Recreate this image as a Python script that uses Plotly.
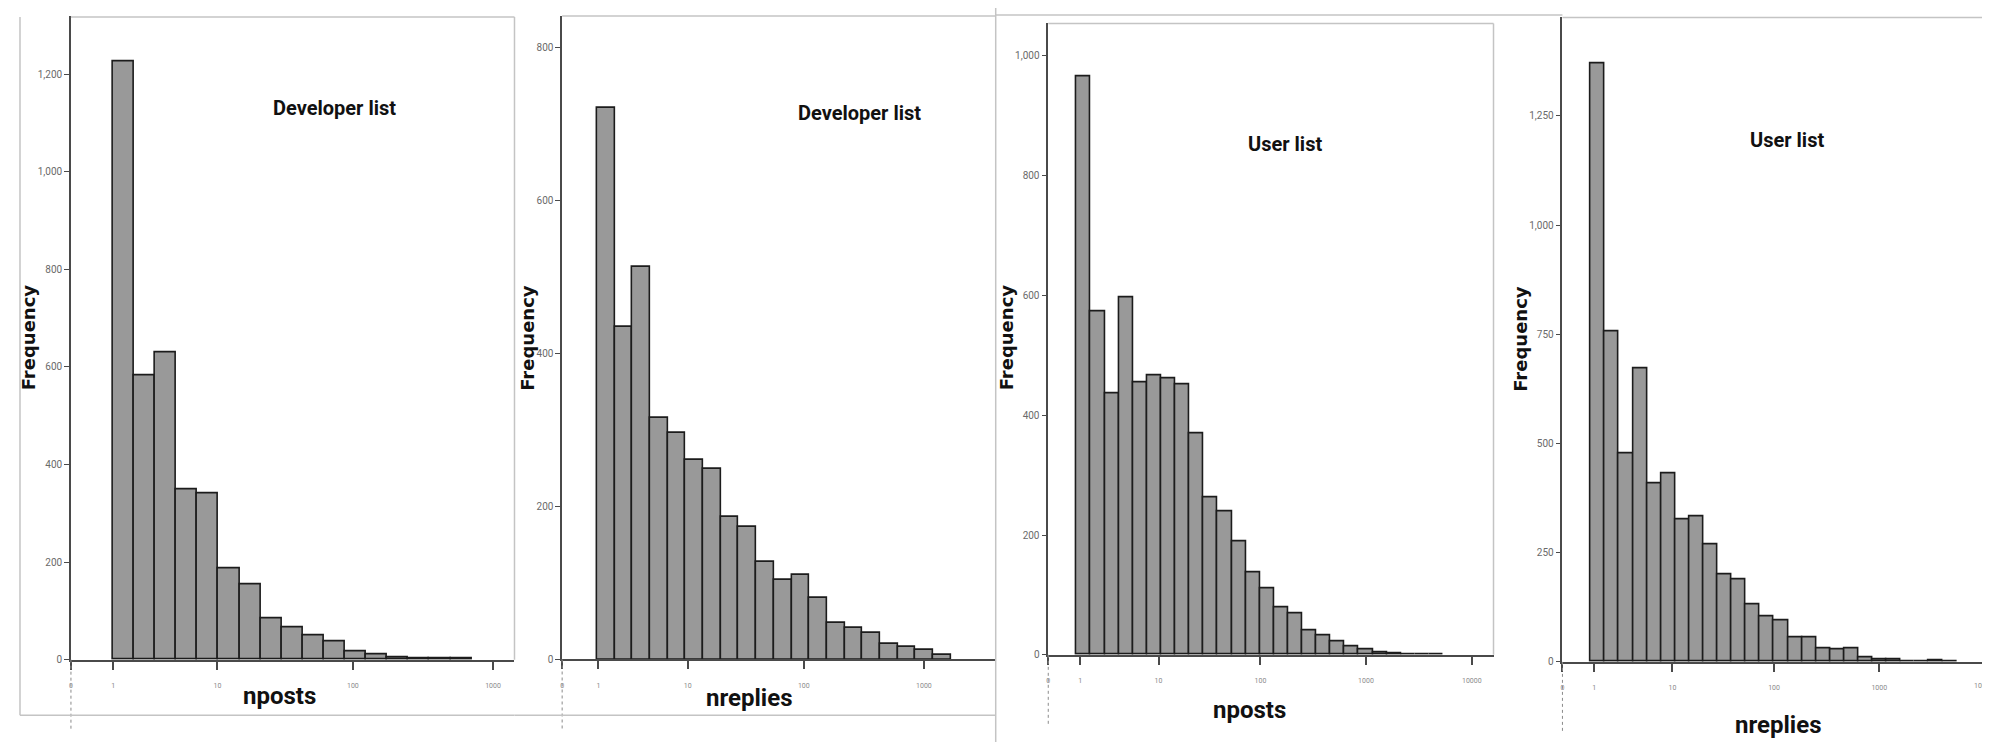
import math
import plotly.graph_objects as go

# ---------------- data ----------------
# histogram counts, bins laid out on a log10(n + 1) scale
DEV_NPOSTS = [1225, 583, 630, 349, 341, 186, 155, 85, 67, 50, 38, 17, 10, 4, 3, 2, 2]
DEV_NREPLIES = [722, 435, 513, 316, 296, 261, 249, 187, 174, 127, 104, 111, 80, 48, 41, 35, 20, 16, 13, 6]
USER_NPOSTS = [965, 574, 437, 596, 455, 466, 462, 451, 369, 263, 240, 190, 138, 110, 79, 69,
               41, 33, 23, 14, 9, 4, 2, 1, 1, 1]
USER_NREPLIES = [1371, 756, 478, 672, 408, 432, 326, 333, 270, 200, 188, 131, 105, 95, 56, 56,
                 31, 29, 30, 11, 5, 5, 2, 2, 3, 2]

# first bin edge and bin width, in log10(n + 1) units
DEV_NPOSTS_BINS = (0.298, 0.150)
DEV_NREPLIES_BINS = (0.290, 0.1467)
USER_NPOSTS_BINS = (0.268, 0.1332)
USER_NREPLIES_BINS = (0.268, 0.1334)

PANEL_TITLES = ["Developer list", "Developer list", "User list", "User list"]
X_TITLES = ["nposts", "nreplies", "nposts", "nreplies"]
Y_TITLE = "Frequency"

X_TICKS_SHORT = [0, 1, 10, 100, 1000]
X_TICKS_LONG = [0, 1, 10, 100, 1000, 10000]

Y_TICKS_1 = [0, 200, 400, 600, 800, 1000, 1200]
Y_TICKS_2 = [0, 200, 400, 600, 800]
Y_TICKS_3 = [0, 200, 400, 600, 800, 1000]
Y_TICKS_4 = [0, 250, 500, 750, 1000, 1250]

# ---------------- layout helpers ----------------
W, H = 1990, 742


def px_x(v):
    return v / W


def px_y(v):
    return 1 - v / H


def fmt(v):
    return f"{v:,}"


panels = [
    dict(counts=DEV_NPOSTS, bins=DEV_NPOSTS_BINS, xticks=X_TICKS_SHORT, yticks=Y_TICKS_1,
         xdom=(61, 505), ydom=(8.5, 657), xmax=3.153, ymax=1318,
         title_xy=(325, 101), xt_xy=(270, 694), fy_xy=(18, 332)),
    dict(counts=DEV_NREPLIES, bins=DEV_NREPLIES_BINS, xticks=X_TICKS_SHORT, yticks=Y_TICKS_2,
         xdom=(552.7, 986.7), ydom=(8, 656.8), xmax=3.596, ymax=841.7,
         title_xy=(850, 106), xt_xy=(740, 696), fy_xy=(518, 332)),
    dict(counts=USER_NPOSTS, bins=USER_NPOSTS_BINS, xticks=X_TICKS_LONG, yticks=Y_TICKS_3,
         xdom=(1039.3, 1485), ydom=(15.6, 652.1), xmax=4.205, ymax=1054,
         title_xy=(1276, 137), xt_xy=(1241, 708), fy_xy=(997, 332)),
    dict(counts=USER_NREPLIES, bins=USER_NREPLIES_BINS, xticks=X_TICKS_LONG, yticks=Y_TICKS_4,
         xdom=(1554, 1990), ydom=(9.5, 659.2), xmax=4.125, ymax=1475.6,
         title_xy=(1779, 133), xt_xy=(1770, 723), fy_xy=(1512, 333)),
]

NARROW = "Roboto, Liberation Sans, Arial, sans-serif"
BAR_FILL = "#999999"
BAR_LINE = "#1c1c1c"
AXIS_COL = "#4a4a4a"
FRAME_COL = "#c4c4c4"
XTICK_FONT = dict(family=NARROW, size=7, color="#8a8a8a")

fig = go.Figure()
annotations = []
shapes = []

for i, p in enumerate(panels):
    n = i + 1
    xa = "x" if n == 1 else f"x{n}"
    ya = "y" if n == 1 else f"y{n}"
    start, width = p["bins"]
    centers = [start + (k + 0.5) * width for k in range(len(p["counts"]))]
    fig.add_trace(go.Bar(
        x=centers, y=p["counts"], width=[width] * len(centers),
        marker=dict(color=BAR_FILL, line=dict(color=BAR_LINE, width=1.6)),
        xaxis=xa, yaxis=ya, showlegend=False, hoverinfo="y",
    ))

    # x tick labels; a label that would spill past the page edge is drawn
    # as a right-anchored annotation instead
    x0px, x1px = p["xdom"]
    scale = (x1px - x0px) / p["xmax"]
    tickvals = [math.log10(v + 1) for v in p["xticks"]]
    ticktext = []
    for v, tv in zip(p["xticks"], tickvals):
        pos = x0px + tv * scale
        if pos + 25 > W:
            ticktext.append("")
            annotations.append(dict(
                x=px_x(W - 2), y=px_y(p["ydom"][1] + 18), xref="paper", yref="paper",
                text=str(v), showarrow=False, xanchor="right", yanchor="top",
                font=XTICK_FONT,
            ))
        else:
            ticktext.append(str(v))

    xkey = "xaxis" if n == 1 else f"xaxis{n}"
    ykey = "yaxis" if n == 1 else f"yaxis{n}"
    fig.update_layout({
        xkey: dict(
            domain=[px_x(x0px), px_x(x1px)],
            range=[0, p["xmax"]], anchor=ya,
            tickvals=tickvals, ticktext=ticktext,
            ticks="outside", ticklen=8, tickwidth=1.5, tickcolor=AXIS_COL,
            ticklabelstandoff=10,
            tickfont=XTICK_FONT,
            showline=True, linecolor=AXIS_COL, linewidth=2,
            showgrid=False, zeroline=False, fixedrange=True,
        ),
        ykey: dict(
            domain=[px_y(p["ydom"][1]), px_y(p["ydom"][0])],
            range=[0, p["ymax"]], anchor=xa,
            tickvals=p["yticks"], ticktext=[fmt(v) for v in p["yticks"]],
            ticks="outside", ticklen=5, tickwidth=1.2, tickcolor=AXIS_COL,
            tickfont=dict(family=NARROW, size=10, color="#6a6a6a"),
            showline=True, linecolor=AXIS_COL, linewidth=1.5,
            showgrid=False, zeroline=False, fixedrange=True,
        ),
    })

    tx, ty = p["title_xy"]
    annotations.append(dict(
        x=px_x(tx), y=px_y(ty), xref="paper", yref="paper", text=PANEL_TITLES[i],
        showarrow=False, xanchor="center", yanchor="middle",
        font=dict(family=NARROW, size=20, color="#111111", weight="bold"),
    ))
    ax, ay = p["xt_xy"]
    annotations.append(dict(
        x=px_x(ax), y=px_y(ay), xref="paper", yref="paper", text=X_TITLES[i],
        showarrow=False, xanchor="center", yanchor="middle",
        font=dict(family=NARROW, size=24, color="#111111", weight="bold"),
    ))
    fx, fy = p["fy_xy"]
    annotations.append(dict(
        x=px_x(fx), y=px_y(fy), xref="paper", yref="paper", text=Y_TITLE,
        showarrow=False, xanchor="center", yanchor="middle", textangle=-90,
        font=dict(family="DejaVu Sans, Verdana, sans-serif", size=18, color="#111111",
                  weight="bold"),
    ))

    # dotted continuation of the y axis below the zero line
    shapes.append(dict(type="line", xref="paper", yref="paper",
                       x0=px_x(x0px), x1=px_x(x0px), y0=px_y(p["ydom"][1]),
                       y1=px_y(min(p["ydom"][1] + 70, 742)),
                       line=dict(color="#8a8a8a", width=1, dash="dot")))


def frame_line(x0, y0, x1, y1, color=FRAME_COL, width=1.5):
    shapes.append(dict(type="line", xref="paper", yref="paper",
                       x0=px_x(x0), y0=px_y(y0), x1=px_x(x1), y1=px_y(y1),
                       line=dict(color=color, width=width)))


# panel 1 frame
frame_line(10, 9, 10, 713)
frame_line(10, 713, 505, 713)
frame_line(61, 9, 505, 9)
frame_line(505, 9, 505, 657)
# panel 2 frame
frame_line(552.7, 8, 986.7, 8)
frame_line(505, 713, 986.7, 713)
frame_line(986.7, 0, 986.7, 742)
# panel 3 frame
frame_line(986.7, 7, 1554, 7)
frame_line(1039.3, 15.6, 1485, 15.6)
frame_line(1485, 15.6, 1485, 652.1)
# panel 4 frame
frame_line(1554, 9.5, 1990, 9.5)

fig.update_layout(
    width=W, height=H,
    margin=dict(l=0, r=0, t=0, b=0),
    paper_bgcolor="white", plot_bgcolor="white",
    bargap=0, barmode="overlay",
    annotations=annotations, shapes=shapes,
    showlegend=False,
)

fig.write_html("out.html")
